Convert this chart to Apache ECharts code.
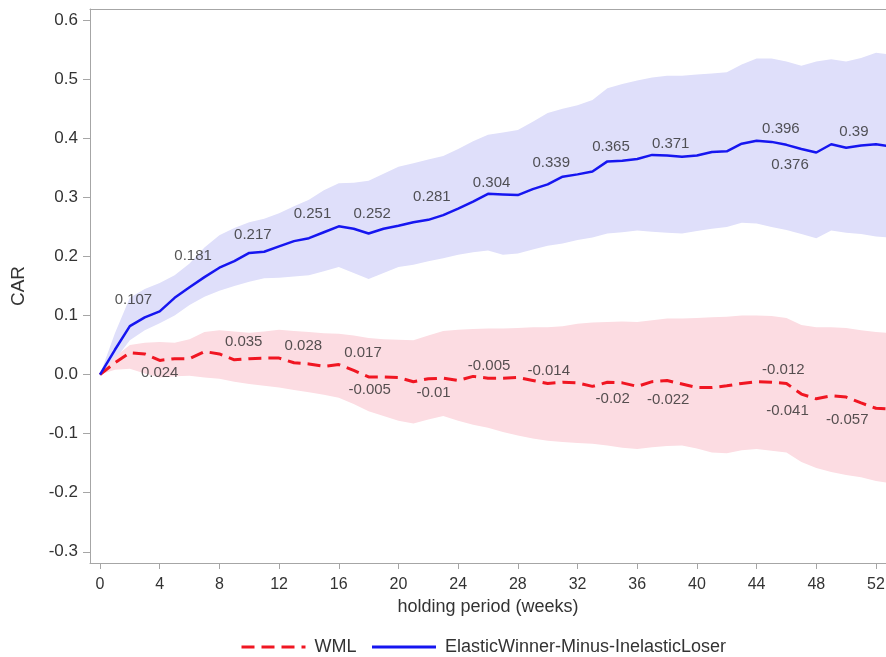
<!DOCTYPE html>
<html>
<head>
<meta charset="utf-8">
<script src="https://cdn.jsdelivr.net/npm/echarts@6/dist/echarts.min.js"></script>
<style>
  html, body { margin: 0; padding: 0; background: #fff; }
  #main { width: 886px; height: 657px; }
</style>
</head>
<body>
<div id="main"></div>
<script>
  // holding period in weeks
  const weeks = [
    0, 1, 2, 3, 4, 5, 6, 7, 8, 9,
    10, 11, 12, 13, 14, 15, 16, 17, 18, 19,
    20, 21, 22, 23, 24, 25, 26, 27, 28, 29,
    30, 31, 32, 33, 34, 35, 36, 37, 38, 39,
    40, 41, 42, 43, 44, 45, 46, 47, 48, 49,
    50, 51, 52, 53];

  // ElasticWinner-Minus-InelasticLoser CAR + band
  const ewilCar = [
    0, 0.042, 0.082, 0.097, 0.107, 0.13, 0.148, 0.165, 0.181, 0.192,
    0.206, 0.208, 0.217, 0.226, 0.231, 0.241, 0.251, 0.247, 0.239, 0.247,
    0.252, 0.258, 0.262, 0.27, 0.281, 0.293, 0.306, 0.305, 0.304, 0.314,
    0.322, 0.335, 0.339, 0.344, 0.361, 0.362, 0.365, 0.372, 0.371, 0.369,
    0.371, 0.377, 0.378, 0.391, 0.396, 0.394, 0.389, 0.382, 0.376, 0.39,
    0.384, 0.388, 0.39, 0.386];
  const ewilUpper = [
    0, 0.07, 0.13, 0.145, 0.155, 0.168, 0.188, 0.215, 0.236, 0.248,
    0.258, 0.264, 0.273, 0.285, 0.296, 0.312, 0.324, 0.325, 0.328, 0.34,
    0.352, 0.358, 0.364, 0.37, 0.382, 0.395, 0.406, 0.41, 0.414, 0.428,
    0.443, 0.45, 0.456, 0.465, 0.485, 0.492, 0.498, 0.503, 0.506, 0.506,
    0.508, 0.51, 0.512, 0.525, 0.535, 0.535, 0.53, 0.523, 0.53, 0.534,
    0.53, 0.536, 0.545, 0.542];
  const ewilLower = [
    0, 0.025, 0.058, 0.075, 0.087, 0.1, 0.118, 0.132, 0.142, 0.15,
    0.157, 0.163, 0.164, 0.166, 0.168, 0.175, 0.182, 0.172, 0.162, 0.172,
    0.182, 0.186, 0.192, 0.197, 0.203, 0.207, 0.21, 0.203, 0.205, 0.212,
    0.218, 0.222, 0.228, 0.232, 0.239, 0.241, 0.244, 0.242, 0.24, 0.239,
    0.243, 0.247, 0.25, 0.257, 0.256, 0.25, 0.245, 0.238, 0.231, 0.244,
    0.24, 0.238, 0.234, 0.232];

  // WML CAR + band
  const wmlCar = [
    0, 0.02, 0.037, 0.035, 0.024, 0.027, 0.027, 0.039, 0.035, 0.025,
    0.027, 0.028, 0.028, 0.02, 0.018, 0.014, 0.017, 0.007, -0.004, -0.004,
    -0.005, -0.012, -0.007, -0.006, -0.01, -0.003, -0.006, -0.006, -0.005, -0.01,
    -0.015, -0.013, -0.014, -0.02, -0.013, -0.014, -0.02, -0.012, -0.01, -0.016,
    -0.022, -0.022, -0.019, -0.015, -0.012, -0.013, -0.015, -0.033, -0.041, -0.036,
    -0.038, -0.048, -0.057, -0.058];
  const wmlUpper = [
    0, 0.03, 0.05, 0.054, 0.055, 0.054, 0.06, 0.072, 0.075, 0.073,
    0.071, 0.073, 0.076, 0.074, 0.072, 0.07, 0.069, 0.066, 0.062, 0.06,
    0.059, 0.058, 0.066, 0.074, 0.076, 0.077, 0.078, 0.078, 0.079, 0.08,
    0.08, 0.082, 0.086, 0.088, 0.089, 0.09, 0.089, 0.092, 0.095, 0.095,
    0.096, 0.097, 0.098, 0.1, 0.1, 0.099, 0.096, 0.084, 0.08, 0.08,
    0.079, 0.075, 0.072, 0.07];
  const wmlLower = [
    0, 0.008, 0.01, 0.002, -0.005, -0.003, -0.002, -0.005, -0.007, -0.012,
    -0.016, -0.019, -0.022, -0.026, -0.03, -0.034, -0.039, -0.05, -0.062, -0.07,
    -0.078, -0.083, -0.076, -0.07, -0.078, -0.085, -0.09, -0.097, -0.103, -0.108,
    -0.112, -0.114, -0.116, -0.117, -0.12, -0.124, -0.126, -0.123, -0.121, -0.12,
    -0.125, -0.132, -0.133, -0.128, -0.126, -0.129, -0.132, -0.148, -0.158, -0.165,
    -0.17, -0.174, -0.18, -0.184];

  // data labels (every 4 weeks)
  const labelWeeks = [4, 8, 12, 16, 20, 24, 28, 32, 36, 40, 44, 48, 52];
  const ewilLabels = [0.107, 0.181, 0.217, 0.251, 0.252, 0.281, 0.304, 0.339, 0.365, 0.371, 0.396, 0.376, 0.39];
  const wmlLabels = [0.024, 0.035, 0.028, 0.017, -0.005, -0.01, -0.005, -0.014, -0.02, -0.022, -0.012, -0.041, -0.057];
  const ewilPlace = ['tl', 'tl', 'tl', 'tl', 'tl', 'tl', 'tl', 'tl', 'tl', 'tl', 'tr', 'bl', 'tl'];
  const wmlPlace = ['b', 'tr', 'tr', 'tr', 'bl', 'bl', 'tl', 'tl', 'bl', 'bl', 'tr', 'bl', 'bl'];

  const xTicks = [0, 4, 8, 12, 16, 20, 24, 28, 32, 36, 40, 44, 48, 52];
  const yTicks = [-0.3, -0.2, -0.1, 0, 0.1, 0.2, 0.3, 0.4, 0.5, 0.6];

  const FONT = "'Liberation Sans', Arial, sans-serif";
  const BLUE = 'rgb(22,22,240)';
  const RED = 'rgb(240,22,34)';
  const AXIS = '#a6a6a6';

  function place(p) {
    if (p === 'tl') return {position: 'left', distance: 7, offset: [0, -12]};
    if (p === 'tr') return {position: 'right', distance: 5, offset: [0, -12]};
    if (p === 'bl') return {position: 'left', distance: 7, offset: [0, 12]};
    return {position: 'bottom', distance: 4};
  }

  // confidence band drawn as one polygon through the axis scales
  function band(low, high, color) {
    return {
      type: 'custom', clip: true, silent: true, z: 1,
      data: [[weeks[0], low[0]]],
      renderItem: (params, api) => {
        const top = weeks.map((w, i) => api.coord([w, high[i]]));
        const bot = weeks.map((w, i) => api.coord([w, low[i]])).reverse();
        return {type: 'polygon', shape: {points: top.concat(bot)}, style: {fill: color}};
      },
    };
  }

  function labels(vals, places) {
    return {
      type: 'scatter', symbolSize: 1, silent: true, z: 6,
      itemStyle: {color: 'rgba(0,0,0,0)'},
      label: {
        show: true, fontSize: 15, color: '#2b2b2b', fontFamily: FONT,
        formatter: p => String(p.value[1]),
      },
      data: labelWeeks.map((w, i) => ({value: [w, vals[i]], label: place(places[i])})),
    };
  }

  const chart = echarts.init(document.getElementById('main'));
  chart.setOption({
    animation: false,
    backgroundColor: '#fff',
    grid: {left: 90, top: 9, right: 0, bottom: 94, outerBoundsMode: 'none'},
    legend: {
      top: 633, left: 235,
      itemWidth: 64, itemHeight: 14, itemGap: 14,
      itemStyle: {opacity: 0},
      lineStyle: {width: 3},
      data: ['WML', 'ElasticWinner-Minus-InelasticLoser'],
      textStyle: {fontSize: 18, color: '#333', fontFamily: FONT, padding: [0, 0, 0, 4]},
    },
    xAxis: [{
      type: 'value', min: -0.67, max: 52.67,
      name: 'holding period (weeks)', nameLocation: 'middle', nameGap: 35,
      nameTextStyle: {fontSize: 18, color: '#333', fontFamily: FONT},
      axisLine: {onZero: false, lineStyle: {color: AXIS}},
      axisTick: {customValues: xTicks, length: 6, lineStyle: {color: AXIS}},
      axisLabel: {customValues: xTicks, margin: 14, fontSize: 16, color: '#333', fontFamily: FONT},
      splitLine: {show: false},
    }, {
      // top frame line only
      type: 'value', position: 'top', min: -0.67, max: 52.67,
      axisLine: {show: true, onZero: false, lineStyle: {color: AXIS}},
      axisTick: {show: false}, axisLabel: {show: false}, splitLine: {show: false},
    }],
    yAxis: {
      type: 'value', min: -0.319, max: 0.619,
      name: 'CAR', nameLocation: 'middle', nameGap: 62, nameRotate: 90,
      nameTextStyle: {fontSize: 19, color: '#333', fontFamily: FONT},
      axisLine: {show: true, onZero: false, lineStyle: {color: AXIS}},
      axisTick: {show: true, customValues: yTicks, length: 7, lineStyle: {color: AXIS}},
      axisLabel: {
        customValues: yTicks, margin: 12, fontSize: 17, color: '#333', fontFamily: FONT,
        formatter: v => v.toFixed(1),
      },
      splitLine: {show: false},
    },
    series: [
      band(ewilLower, ewilUpper, 'rgb(223,223,250)'),
      band(wmlLower, wmlUpper, 'rgb(252,220,226)'),
      {
        name: 'WML', type: 'line', symbol: 'none', z: 4,
        data: weeks.map((w, i) => [w, wmlCar[i]]),
        itemStyle: {color: RED},
        lineStyle: {color: RED, width: 3, type: [13, 7]},
      },
      {
        name: 'ElasticWinner-Minus-InelasticLoser', type: 'line', symbol: 'none', z: 4,
        data: weeks.map((w, i) => [w, ewilCar[i]]),
        itemStyle: {color: BLUE},
        lineStyle: {color: BLUE, width: 2.5},
      },
      labels(ewilLabels, ewilPlace),
      labels(wmlLabels, wmlPlace),
    ],
  });
</script>
</body>
</html>
